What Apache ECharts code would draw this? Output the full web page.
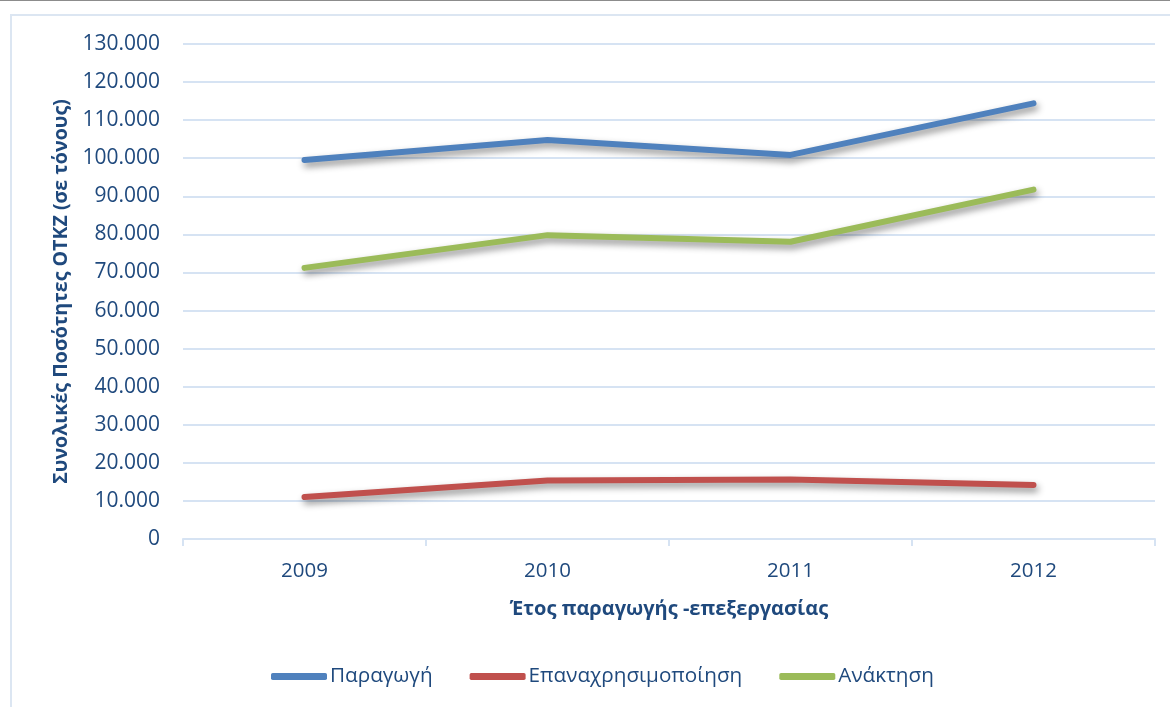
<!DOCTYPE html>
<html>
<head>
<meta charset="utf-8">
<script src="https://cdn.jsdelivr.net/npm/echarts@6/dist/echarts.min.js"></script>
<style>
  html, body { margin: 0; padding: 0; background: #fff; }
  #chart { width: 1170px; height: 707px; }
</style>
</head>
<body>
<div id="chart"></div>
<script>
// Years of production / processing
const years = ['2009', '2010', '2011', '2012'];
// Total quantities (tonnes)
const paragogi = [99550, 104800, 100870, 114400];
const epanaxrisimopoiisi = [11050, 15350, 15600, 14200];
const anaktisi = [71200, 79800, 78060, 91750];

const seriesNames = ['Παραγωγή', 'Επαναχρησιμοποίηση', 'Ανάκτηση'];
const seriesColors = ['#4F81BD', '#C0504D', '#9BBB59'];
const seriesData = [paragogi, epanaxrisimopoiisi, anaktisi];

const textColor = '#1F497D';
const gridColor = '#D6E3F3';
const font = 'Open Sans';

const chart = echarts.init(document.getElementById('chart'));

function fmt(v) {
  return v.toString().replace(/\B(?=(\d{3})+(?!\d))/g, '.');
}

chart.setOption({
  animation: false,
  textStyle: { fontFamily: font },
  graphic: [
    { type: 'rect', shape: { x: 0, y: 0, width: 1170, height: 1 }, style: { fill: '#8C8C8C' } },
    { type: 'rect', shape: { x: 11, y: 15, width: 1300, height: 900 },
      style: { fill: null, stroke: '#DCE6F2', lineWidth: 2 } }
  ],
  grid: { left: 183, right: 15, top: 44, bottom: 168, containLabel: false },
  legend: {
    bottom: 15,
    left: 266,
    itemWidth: 56,
    itemHeight: 7,
    itemGap: 37,
    icon: 'roundRect',
    textStyle: { color: textColor, fontSize: 20.7, fontFamily: font, padding: [0, 0, 0, -2] },
    data: seriesNames
  },
  xAxis: {
    type: 'category',
    data: years,
    boundaryGap: true,
    name: 'Έτος παραγωγής -επεξεργασίας',
    nameLocation: 'middle',
    nameGap: 60,
    nameTextStyle: { color: textColor, fontSize: 20, fontWeight: 'bold', fontFamily: font },
    axisLine: { lineStyle: { color: gridColor, width: 2 } },
    axisTick: { show: true, length: 7, lineStyle: { color: gridColor, width: 2 } },
    axisLabel: { color: textColor, fontSize: 20.5, margin: 22, fontFamily: font }
  },
  yAxis: {
    type: 'value',
    min: 0,
    max: 130000,
    interval: 10000,
    name: 'Συνολικές Ποσότητες ΟΤΚΖ (σε τόνους)',
    nameLocation: 'middle',
    nameGap: 112,
    nameRotate: 90,
    nameTextStyle: { color: textColor, fontSize: 19.6, fontWeight: 'bold', fontFamily: font },
    axisLine: { show: false },
    axisTick: { show: false },
    splitLine: { lineStyle: { color: gridColor, width: 2 } },
    axisLabel: { color: textColor, fontSize: 21, margin: 23, fontFamily: font, formatter: fmt }
  },
  series: seriesNames.map((name, i) => ({
    name: name,
    type: 'line',
    data: seriesData[i],
    symbol: 'none',
    color: seriesColors[i],
    lineStyle: {
      width: 6,
      cap: 'round',
      join: 'round',
      color: seriesColors[i],
      shadowColor: 'rgba(0,0,0,0.45)',
      shadowBlur: 7,
      shadowOffsetX: 2,
      shadowOffsetY: 4
    }
  }))
});
</script>
</body>
</html>
